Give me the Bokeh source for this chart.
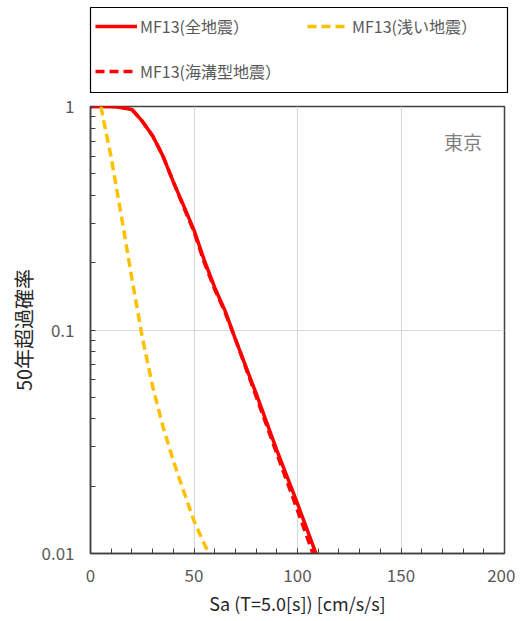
from bokeh.plotting import figure
from bokeh.layouts import column
from bokeh.models import (Range1d, FixedTicker, SingleIntervalTicker, CustomJSTickFormatter,
                          Legend, LegendItem, Label)
from bokeh.embed import file_html
from bokeh.resources import INLINE

# ---- data ----
sa_all = [0, 5, 10, 15, 20, 25, 30, 35, 40, 45, 50, 55, 60, 65, 70, 80, 90, 100, 110]
p_all = [1.0, 1.0, 1.0, 0.99, 0.97, 0.86, 0.74, 0.60, 0.46, 0.36, 0.28, 0.205, 0.155, 0.122,
         0.091, 0.052, 0.029, 0.0167, 0.0094]

sa_shallow = [5, 10, 15, 20, 25, 30, 35, 40, 45, 50, 55, 60]
p_shallow = [1.0, 0.59, 0.32, 0.17, 0.093, 0.056, 0.037, 0.026, 0.019, 0.014, 0.011, 0.0089]

sa_trench = [0, 5, 10, 15, 20, 25, 30, 35, 40, 45, 50, 55, 60, 65, 70, 80, 90, 100, 110]
p_trench = [1.0, 1.0, 1.0, 0.99, 0.97, 0.86, 0.74, 0.60, 0.46, 0.355, 0.275, 0.2, 0.152, 0.12,
            0.091, 0.0505, 0.028, 0.0156, 0.0086]

y_major = [0.01, 0.1, 1]
y_minor = [m * d for d in (0.01, 0.1) for m in range(2, 10)]

labels = ["MF13(全地震）", "MF13(浅い地震）", "MF13(海溝型地震）"]
site = "東京"
x_title = "Sa (T=5.0[s]) [cm/s/s]"
y_title = "50年超過確率"

FONT = "Noto Sans CJK JP"
GRAY = "#595959"
RED = "#FF0000"
YELLOW = "#FFC000"
LW = 3.5
DASH = "9 5"

# ---------------- main chart ----------------
p = figure(frame_width=414, frame_height=447, y_axis_type="log",
           x_range=Range1d(0, 200), y_range=Range1d(0.01, 1),
           output_backend="svg", toolbar_location=None,
           min_border_left=90, min_border_right=11, min_border_bottom=66, min_border_top=13)

p.line(sa_all, p_all, line_color=RED, line_width=LW)
p.line(sa_shallow, p_shallow, line_color=YELLOW, line_width=LW, line_dash=DASH)
p.line(sa_trench, p_trench, line_color=RED, line_width=LW, line_dash=DASH)

p.xaxis.ticker = SingleIntervalTicker(interval=50, num_minor_ticks=5)
p.yaxis.ticker = FixedTicker(ticks=y_major, minor_ticks=y_minor)
p.yaxis.formatter = CustomJSTickFormatter(code="return String(parseFloat(tick.toPrecision(3)))")

for ax in (p.xaxis[0], p.yaxis[0]):
    ax.axis_line_color = "#404040"
    ax.axis_line_width = 1.5
    ax.major_tick_in = 5
    ax.major_tick_out = 0
    ax.minor_tick_in = 5
    ax.minor_tick_out = 0
    ax.major_tick_line_color = "#404040"
    ax.minor_tick_line_color = "#404040"
    ax.major_label_text_font = FONT
    ax.major_label_text_font_size = "17px"
    ax.major_label_text_color = GRAY
    ax.axis_label_text_font = FONT
    ax.axis_label_text_font_style = "normal"
    ax.axis_label_text_color = "#262626"

p.xaxis.axis_label = x_title
p.yaxis.axis_label = y_title
p.xaxis.axis_label_text_font_size = "18px"
p.yaxis.axis_label_text_font_size = "20px"
p.xaxis.major_label_standoff = 15
p.yaxis.major_label_standoff = 16
p.xaxis.axis_label_standoff = 5
p.yaxis.axis_label_standoff = 0

p.xgrid.grid_line_color = "#D9D9D9"
p.ygrid.grid_line_color = "#D9D9D9"
p.xgrid.grid_line_width = 1.2
p.ygrid.grid_line_width = 1.2
p.outline_line_color = "#404040"
p.outline_line_width = 1.5
p.outline_line_alpha = 1.0

p.add_layout(Label(x=180, y=0.70, text=site, text_font=FONT, text_font_size="19px",
                   text_color="#7F7F7F", text_align="center", text_baseline="middle"))

# ---------------- legend strip (box above the chart) ----------------
top = figure(frame_width=417, frame_height=86, x_range=Range1d(0, 1), y_range=Range1d(-2, -1),
             output_backend="svg", toolbar_location=None, x_axis_type=None, y_axis_type=None,
             min_border_left=87, min_border_right=11, min_border_top=7, min_border_bottom=0)
top.grid.visible = False
top.outline_line_color = "#000000"
top.outline_line_width = 1.2

# the same series, drawn outside this strip's view, serve as legend samples
l_all = top.line(sa_all, p_all, line_color=RED, line_width=LW)
l_sh = top.line(sa_shallow, p_shallow, line_color=YELLOW, line_width=LW, line_dash=DASH)
l_tr = top.line(sa_trench, p_trench, line_color=RED, line_width=LW, line_dash=DASH)

legend = Legend(items=[LegendItem(label=labels[0], renderers=[l_all]),
                       LegendItem(label=labels[2], renderers=[l_tr]),
                       LegendItem(label=labels[1], renderers=[l_sh])],
                ncols=2, location=(5, 10),
                glyph_width=42, glyph_height=24, label_height=24, label_width=146,
                label_standoff=3, spacing=21, padding=8, margin=0,
                label_text_font=FONT, label_text_font_size="16px", label_text_color=GRAY,
                border_line_color=None, background_fill_alpha=0)
top.add_layout(legend)

layout = column(top, p, spacing=0)
open("out.html", "w").write(file_html(layout, INLINE))
